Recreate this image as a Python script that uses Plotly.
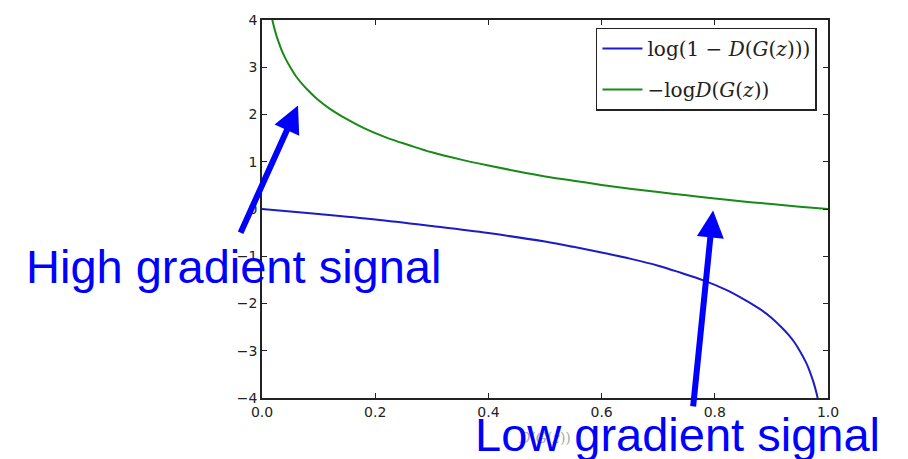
import plotly.graph_objects as go

# Green curve: -log D(G(z))
green_x = [0.018, 0.02, 0.025, 0.03, 0.035, 0.04, 0.05, 0.06, 0.07, 0.08, 0.10, 0.12, 0.15,
           0.18, 0.22, 0.26, 0.30, 0.35, 0.40, 0.45, 0.50, 0.55, 0.60, 0.65, 0.70, 0.75,
           0.80, 0.85, 0.90, 0.95, 1.0]
green_y = [4.02, 3.91, 3.69, 3.51, 3.35, 3.22, 3.00, 2.81, 2.66, 2.53, 2.30, 2.12, 1.90,
           1.71, 1.51, 1.35, 1.20, 1.05, 0.92, 0.80, 0.69, 0.60, 0.51, 0.43, 0.36, 0.29,
           0.22, 0.16, 0.105, 0.05, 0.0]

# Blue curve: log(1 - D(G(z)))
blue_x = [0.0, 0.1, 0.2, 0.3, 0.4, 0.5, 0.55, 0.6, 0.65, 0.7, 0.74, 0.78, 0.82, 0.85,
          0.88, 0.90, 0.92, 0.93, 0.94, 0.95, 0.96, 0.965, 0.97, 0.975, 0.98, 0.982]
blue_y = [0.0, -0.105, -0.22, -0.36, -0.51, -0.69, -0.80, -0.92, -1.05, -1.20, -1.35,
          -1.51, -1.71, -1.90, -2.12, -2.30, -2.53, -2.66, -2.81, -3.00, -3.22, -3.35,
          -3.51, -3.69, -3.91, -4.02]

x_ticks = [0.0, 0.2, 0.4, 0.6, 0.8, 1.0]
x_tick_text = ["0.0", "0.2", "0.4", "0.6", "0.8", "1.0"]
y_ticks = [-4, -3, -2, -1, 0, 1, 2, 3, 4]

blue = "#1c1cc4"
green = "#178a17"
arrow_blue = "#0000ff"

fig = go.Figure()
fig.add_trace(go.Scatter(
    x=blue_x, y=blue_y, mode="lines", line=dict(color=blue, width=2, shape="spline"),
    name="log(1 − <i>D</i>(<i>G</i>(<i>z</i>)))", legendgroup="a"))
fig.add_trace(go.Scatter(
    x=green_x, y=green_y, mode="lines", line=dict(color=green, width=2, shape="spline"),
    name="−log<i>D</i>(<i>G</i>(<i>z</i>))", legendgroup="b"))

axis_common = dict(
    showgrid=False, zeroline=False, showline=True, linecolor="#222", linewidth=1.5,
    mirror="allticks", ticks="inside", ticklen=5, tickcolor="#222", tickwidth=1,
    tickfont=dict(family="DejaVu Sans", size=14, color="#222"),
)

fig.update_layout(
    width=908, height=459,
    margin=dict(l=262, r=80, t=17, b=61),
    paper_bgcolor="white", plot_bgcolor="white",
    xaxis=dict(range=[0, 1], tickvals=x_ticks, ticktext=x_tick_text,
               title=dict(text="<i>D</i>(<i>G</i>(<i>z</i>))", standoff=15,
                          font=dict(family="DejaVu Serif", size=14, color="#aaa")),
               **axis_common),
    yaxis=dict(range=[-4, 4], tickvals=y_ticks, **axis_common),
    showlegend=True,
    legend=dict(x=0.59, y=0.98, xanchor="left", yanchor="top",
                bordercolor="#222", borderwidth=1.5, bgcolor="white",
                font=dict(family="DejaVu Serif", size=20, color="#222"),
                traceorder="grouped", tracegroupgap=12, itemwidth=40),
    annotations=[
        dict(x=0.0636, y=2.19, ax=-0.039, ay=-0.535, xref="x", yref="y", axref="x", ayref="y",
             showarrow=True, arrowhead=2, arrowsize=0.9, arrowwidth=6, arrowcolor=arrow_blue,
             text=""),
        dict(x=0.797, y=-0.03, ax=0.7615, ay=-4.21, xref="x", yref="y", axref="x", ayref="y",
             showarrow=True, arrowhead=2, arrowsize=0.9, arrowwidth=6, arrowcolor=arrow_blue,
             text=""),
        dict(x=-0.421, y=0.349, xref="paper", yref="paper", xanchor="left", yanchor="middle",
             showarrow=False, text="High gradient signal",
             font=dict(family="Liberation Sans", size=47, color=arrow_blue)),
        dict(x=0.3725, y=-0.097, xref="paper", yref="paper", xanchor="left", yanchor="middle",
             showarrow=False, text="Low gradient signal",
             font=dict(family="Liberation Sans", size=47, color=arrow_blue)),
    ],
)

fig.write_html("out.html")
